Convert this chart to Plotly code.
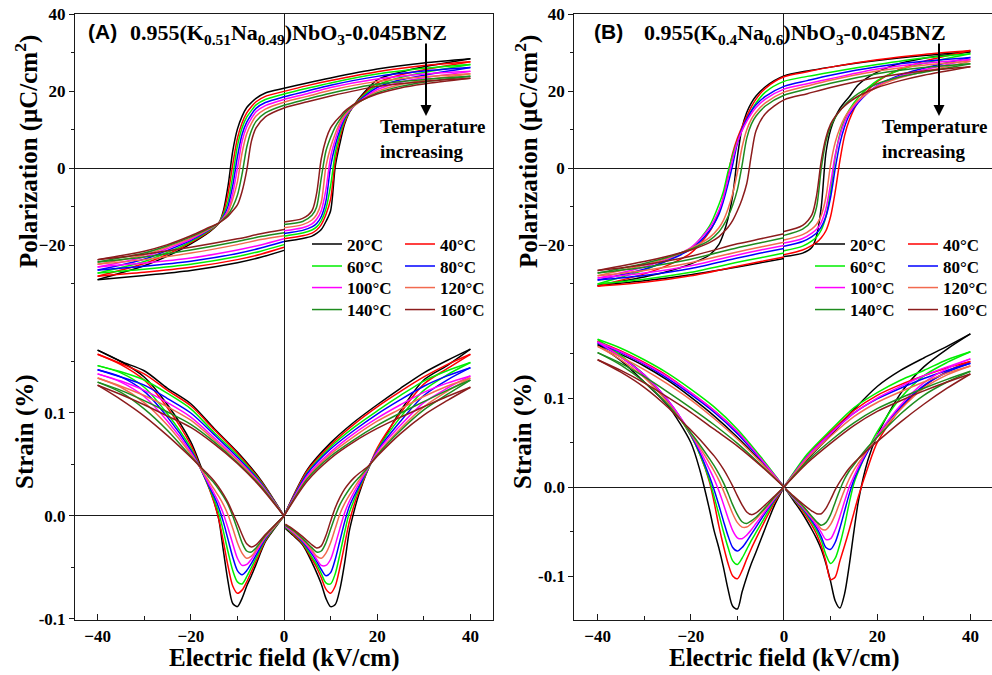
import plotly.graph_objects as go

# ---------------- data ----------------
TEMPS = [20, 40, 60, 80, 100, 120, 140, 160]
LABELS = [f"{t}°C" for t in TEMPS]
COLORS = ["#000000", "#ff0000", "#00ee00", "#0000ff", "#ff00ff", "#f26a4f", "#1e8c1e", "#8c1c1c"]

# P-E loops: descending branch (+40 -> -40) and ascending branch (split at the E=0 jump)
E_DOWN = [40, 30, 20, 10, 5, 0, -4, -6, -7, -8, -9, -10, -11, -12, -13, -14, -16, -20, -25, -30, -40]
E_UP_NEG = [-40, -30, -20, -10, -5, 0]
E_UP_POS = [0, 4, 6, 7, 8, 9, 10, 11, 12, 13, 14, 16, 20, 25, 30, 40]

A_P_DOWN = [
    [28.5, 27.4, 25.8, 23.5, 22.2, 20.8, 19.6, 18.2, 17.1, 15.8, 13.5, 10.2, 4.5, -4.5, -11.0, -14.3, -16.5, -19.6, -22.8, -25.3, -28.9],
    [27.7, 26.7, 25.1, 22.8, 21.5, 20.0, 18.7, 17.3, 16.0, 14.4, 11.8, 7.8, 1.0, -6.5, -11.5, -14.2, -16.3, -19.3, -22.3, -24.7, -28.0],
    [27.0, 26.0, 24.5, 22.2, 20.8, 19.3, 17.9, 16.5, 15.0, 13.3, 10.5, 5.8, -2.0, -8.5, -12.0, -14.2, -16.1, -19.0, -21.8, -24.2, -27.2],
    [26.2, 25.3, 23.9, 21.6, 20.1, 18.6, 17.1, 15.6, 14.0, 12.0, 8.8, 3.0, -4.5, -9.8, -12.5, -14.2, -15.9, -18.7, -21.3, -23.6, -26.4],
    [25.2, 24.5, 23.2, 21.0, 19.4, 17.9, 16.3, 14.7, 13.0, 10.8, 7.0, 0.0, -6.5, -10.8, -12.8, -14.2, -15.8, -18.4, -20.8, -23.0, -25.6],
    [24.6, 23.8, 22.6, 20.3, 18.7, 17.2, 15.4, 13.6, 11.7, 9.0, 4.0, -3.5, -8.0, -11.3, -13.0, -14.2, -15.7, -18.1, -20.4, -22.5, -24.9],
    [23.9, 23.1, 21.9, 19.5, 18.0, 16.4, 14.4, 12.2, 9.8, 5.5, -1.5, -7.0, -10.0, -12.0, -13.2, -14.2, -15.5, -17.8, -20.1, -22.0, -24.3],
    [23.4, 22.6, 21.3, 18.8, 17.3, 15.7, 13.4, 10.5, 7.0, -0.5, -6.0, -9.5, -11.0, -12.4, -13.4, -14.2, -15.3, -17.5, -19.8, -21.5, -23.7],
]
A_P_UP_NEG = [
    [-28.9, -27.8, -26.5, -24.5, -23.1, -21.3],
    [-28.0, -27.0, -25.7, -23.7, -22.3, -20.5],
    [-27.2, -26.2, -24.9, -22.9, -21.5, -19.8],
    [-26.4, -25.4, -24.1, -22.1, -20.7, -19.0],
    [-25.6, -24.6, -23.3, -21.2, -19.9, -18.3],
    [-24.9, -23.7, -22.0, -19.8, -18.5, -17.5],
    [-24.3, -23.0, -21.2, -19.0, -17.7, -16.7],
    [-23.7, -22.3, -20.5, -18.3, -17.0, -15.9],
]
A_P_UP_POS = [
    [-19.0, -18.2, -17.6, -16.9, -15.9, -13.8, -11.0, 0.5, 6.5, 11.5, 14.5, 18.0, 23.0, 25.0, 26.4, 28.5],
    [-18.3, -17.5, -16.8, -16.0, -14.6, -12.0, -8.0, 2.0, 8.0, 12.0, 14.6, 17.8, 22.2, 24.3, 25.6, 27.7],
    [-17.6, -16.8, -16.0, -15.2, -13.6, -10.5, -4.5, 4.0, 9.0, 12.5, 14.7, 17.6, 21.6, 23.6, 24.9, 27.0],
    [-16.9, -16.1, -15.2, -14.3, -12.5, -8.5, 0.5, 6.0, 10.0, 13.0, 14.9, 17.4, 21.0, 23.0, 24.2, 26.2],
    [-16.2, -15.4, -14.4, -13.2, -11.0, -5.5, 3.0, 7.5, 11.0, 13.4, 15.0, 17.2, 20.5, 22.4, 23.5, 25.2],
    [-15.4, -14.6, -13.4, -12.0, -8.8, 0.5, 5.5, 9.0, 11.8, 13.8, 15.2, 17.1, 20.0, 21.8, 22.9, 24.6],
    [-14.6, -13.8, -12.2, -10.0, -2.5, 4.5, 8.0, 10.8, 12.7, 14.3, 15.5, 17.2, 19.6, 21.3, 22.4, 23.9],
    [-13.9, -13.0, -11.0, -6.5, 2.5, 7.5, 10.5, 12.2, 13.5, 14.8, 15.8, 17.3, 19.3, 20.9, 21.9, 23.4],
]

B_P_DOWN = [
    [30.3, 29.3, 28.0, 26.3, 25.3, 24.0, 21.2, 18.8, 17.0, 14.5, 10.5, 3.0, -7.0, -13.0, -17.0, -19.8, -22.5, -24.8, -26.8, -28.2, -30.4],
    [30.6, 29.6, 28.2, 26.3, 25.1, 23.8, 20.8, 18.0, 16.0, 13.5, 10.8, 7.8, 4.0, -1.5, -7.5, -11.5, -16.5, -22.0, -25.2, -27.4, -30.6],
    [29.8, 28.7, 27.0, 25.0, 23.9, 22.6, 19.8, 17.0, 15.0, 12.6, 10.0, 7.0, 3.5, -0.8, -6.0, -9.5, -15.0, -20.8, -23.8, -26.4, -30.0],
    [28.8, 27.8, 26.4, 24.2, 22.8, 21.3, 18.7, 16.5, 14.9, 12.8, 10.2, 6.5, 1.0, -4.0, -8.5, -12.0, -16.2, -21.0, -24.0, -26.2, -29.0],
    [28.3, 27.3, 25.8, 23.3, 22.0, 20.6, 18.0, 15.8, 14.2, 12.2, 9.8, 6.8, 2.5, -2.5, -7.5, -11.0, -15.5, -20.6, -23.5, -25.6, -28.5],
    [27.8, 26.8, 25.3, 22.9, 21.4, 19.8, 17.0, 14.6, 12.8, 10.0, 5.5, -1.0, -6.5, -10.5, -13.5, -15.5, -18.0, -20.8, -23.3, -25.1, -27.9],
    [27.2, 26.2, 24.6, 22.1, 20.6, 19.0, 16.2, 13.6, 11.5, 7.8, 0.8, -5.5, -9.5, -12.5, -14.8, -16.5, -18.7, -21.0, -23.1, -24.7, -27.2],
    [26.4, 25.3, 23.6, 21.0, 19.4, 17.8, 14.2, 9.8, 3.5, -4.0, -8.0, -11.0, -13.5, -15.3, -16.6, -17.8, -19.3, -21.2, -22.8, -24.2, -26.5],
]
B_P_UP_NEG = [
    [-30.4, -29.2, -27.6, -25.6, -24.5, -23.4],
    [-30.6, -29.6, -27.9, -25.4, -24.2, -23.0],
    [-30.0, -28.8, -27.0, -24.4, -23.2, -22.0],
    [-29.0, -27.8, -26.0, -23.3, -22.0, -20.8],
    [-28.5, -27.2, -25.3, -22.5, -21.2, -20.0],
    [-27.9, -26.5, -24.5, -21.7, -20.4, -19.2],
    [-27.2, -25.7, -23.6, -20.6, -19.3, -18.0],
    [-26.5, -25.0, -22.8, -19.6, -18.3, -17.0],
]
B_P_UP_POS = [
    [-22.9, -22.0, -20.5, -17.5, -10.0, 4.0, 10.0, 13.3, 15.6, 17.2, 18.6, 21.8, 25.0, 27.3, 28.6, 30.3],
    [-22.4, -21.2, -20.0, -19.2, -18.0, -16.2, -12.5, -6.0, 2.0, 8.5, 12.5, 17.5, 22.5, 25.8, 27.8, 30.6],
    [-21.4, -20.2, -18.8, -17.8, -16.0, -12.5, -6.0, 3.0, 9.0, 12.8, 15.2, 18.5, 22.8, 25.6, 27.3, 29.8],
    [-20.2, -19.0, -17.7, -16.8, -15.2, -12.5, -7.5, 0.0, 6.5, 10.8, 13.8, 17.2, 21.5, 24.3, 26.0, 28.8],
    [-19.4, -18.2, -16.8, -15.8, -14.0, -10.5, -4.0, 3.5, 8.5, 12.0, 14.4, 17.5, 21.4, 24.0, 25.6, 28.3],
    [-18.6, -17.2, -15.7, -14.5, -12.2, -7.5, 1.0, 6.8, 10.5, 13.2, 15.0, 17.8, 21.2, 23.6, 25.1, 27.8],
    [-17.4, -15.8, -13.5, -10.0, 0.0, 7.0, 10.8, 13.2, 15.0, 16.4, 17.6, 19.5, 22.0, 23.8, 25.0, 27.2],
    [-16.4, -14.8, -12.0, -7.0, 2.0, 8.0, 11.5, 13.5, 15.0, 16.2, 17.2, 18.8, 21.0, 22.8, 24.2, 26.4],
]

# S-E butterfly loops: four branches
E_RU = [0.3, 2, 4, 6, 7, 8, 9, 10, 11, 12, 13, 14, 15, 16, 18, 20, 25, 30, 35, 40]
E_RR = [40, 35, 30, 25, 20, 15, 10, 5, 0]
E_LD = [0, -2, -4, -6, -7, -8, -9, -10, -11, -12, -13, -14, -15, -16, -18, -20, -25, -30, -35, -40]
E_LR = [-40, -35, -30, -25, -20, -15, -10, -5, 0]

A_S_RU = [
    [-0.012, -0.019, -0.028, -0.045, -0.055, -0.066, -0.080, -0.088, -0.086, -0.071, -0.046, -0.015, 0.004, 0.020, 0.045, 0.063, 0.102, 0.132, 0.146, 0.162],
    [-0.011, -0.018, -0.027, -0.042, -0.050, -0.060, -0.071, -0.075, -0.068, -0.050, -0.028, -0.006, 0.010, 0.023, 0.045, 0.066, 0.100, 0.128, 0.143, 0.157],
    [-0.011, -0.017, -0.026, -0.040, -0.047, -0.056, -0.065, -0.066, -0.056, -0.037, -0.016, 0.003, 0.015, 0.026, 0.045, 0.064, 0.096, 0.122, 0.137, 0.149],
    [-0.010, -0.016, -0.025, -0.037, -0.044, -0.052, -0.058, -0.055, -0.042, -0.024, -0.006, 0.009, 0.019, 0.028, 0.046, 0.063, 0.092, 0.117, 0.132, 0.144],
    [-0.010, -0.016, -0.024, -0.035, -0.042, -0.048, -0.048, -0.042, -0.028, -0.012, 0.003, 0.014, 0.023, 0.031, 0.046, 0.062, 0.088, 0.110, 0.124, 0.136],
    [-0.009, -0.015, -0.023, -0.033, -0.039, -0.041, -0.036, -0.026, -0.012, 0.002, 0.012, 0.020, 0.027, 0.034, 0.047, 0.060, 0.085, 0.106, 0.121, 0.134],
    [-0.009, -0.014, -0.022, -0.031, -0.035, -0.034, -0.026, -0.013, 0.000, 0.011, 0.019, 0.026, 0.032, 0.037, 0.047, 0.059, 0.083, 0.103, 0.118, 0.132],
    [-0.008, -0.013, -0.020, -0.028, -0.031, -0.029, -0.019, -0.005, 0.008, 0.018, 0.026, 0.032, 0.037, 0.041, 0.048, 0.058, 0.080, 0.098, 0.112, 0.125],
]
A_S_RR = [
    [0.162, 0.151, 0.139, 0.124, 0.108, 0.091, 0.071, 0.045, 0.0],
    [0.157, 0.147, 0.135, 0.121, 0.106, 0.089, 0.069, 0.044, 0.0],
    [0.149, 0.141, 0.131, 0.117, 0.102, 0.086, 0.067, 0.042, 0.0],
    [0.144, 0.136, 0.126, 0.113, 0.099, 0.083, 0.065, 0.041, 0.0],
    [0.136, 0.129, 0.120, 0.108, 0.095, 0.080, 0.062, 0.039, 0.0],
    [0.134, 0.126, 0.116, 0.104, 0.092, 0.077, 0.060, 0.037, 0.0],
    [0.132, 0.122, 0.111, 0.100, 0.088, 0.074, 0.058, 0.036, 0.0],
    [0.125, 0.116, 0.106, 0.096, 0.085, 0.072, 0.056, 0.034, 0.0],
]
A_S_LD = [
    [0.0, -0.012, -0.025, -0.047, -0.058, -0.068, -0.080, -0.088, -0.085, -0.064, -0.034, -0.003, 0.014, 0.027, 0.050, 0.072, 0.108, 0.135, 0.150, 0.161],
    [0.0, -0.011, -0.024, -0.044, -0.054, -0.064, -0.072, -0.075, -0.068, -0.049, -0.025, -0.003, 0.013, 0.026, 0.048, 0.069, 0.105, 0.132, 0.147, 0.157],
    [0.0, -0.011, -0.023, -0.041, -0.050, -0.059, -0.066, -0.064, -0.053, -0.035, -0.015, 0.003, 0.016, 0.027, 0.047, 0.066, 0.099, 0.125, 0.139, 0.146],
    [0.0, -0.010, -0.022, -0.038, -0.046, -0.053, -0.057, -0.053, -0.040, -0.023, -0.006, 0.008, 0.019, 0.028, 0.047, 0.064, 0.096, 0.121, 0.135, 0.142],
    [0.0, -0.010, -0.021, -0.035, -0.042, -0.047, -0.048, -0.041, -0.027, -0.012, 0.002, 0.013, 0.022, 0.030, 0.047, 0.062, 0.092, 0.116, 0.130, 0.138],
    [0.0, -0.010, -0.020, -0.033, -0.039, -0.041, -0.036, -0.026, -0.012, 0.001, 0.011, 0.019, 0.026, 0.033, 0.047, 0.060, 0.088, 0.110, 0.125, 0.134],
    [0.0, -0.009, -0.019, -0.031, -0.035, -0.034, -0.026, -0.013, 0.000, 0.011, 0.019, 0.026, 0.032, 0.037, 0.048, 0.058, 0.083, 0.104, 0.120, 0.130],
    [0.0, -0.009, -0.018, -0.028, -0.030, -0.027, -0.018, -0.007, 0.003, 0.013, 0.021, 0.028, 0.034, 0.039, 0.048, 0.057, 0.078, 0.097, 0.113, 0.127],
]
A_S_LR = [
    [0.161, 0.150, 0.141, 0.124, 0.109, 0.085, 0.062, 0.035, 0.0],
    [0.157, 0.148, 0.138, 0.122, 0.107, 0.084, 0.061, 0.034, 0.0],
    [0.146, 0.140, 0.132, 0.119, 0.104, 0.081, 0.059, 0.033, 0.0],
    [0.142, 0.135, 0.127, 0.114, 0.100, 0.079, 0.057, 0.032, 0.0],
    [0.138, 0.131, 0.122, 0.110, 0.096, 0.076, 0.055, 0.031, 0.0],
    [0.134, 0.126, 0.117, 0.106, 0.093, 0.074, 0.054, 0.030, 0.0],
    [0.130, 0.122, 0.112, 0.101, 0.089, 0.072, 0.052, 0.029, 0.0],
    [0.127, 0.118, 0.108, 0.097, 0.086, 0.070, 0.051, 0.028, 0.0],
]

B_S_RU = [
    [-0.002, -0.015, -0.030, -0.048, -0.058, -0.070, -0.086, -0.106, -0.128, -0.136, -0.120, -0.088, -0.050, -0.015, 0.030, 0.058, 0.105, 0.135, 0.155, 0.172],
    [-0.002, -0.013, -0.027, -0.043, -0.053, -0.066, -0.084, -0.104, -0.101, -0.083, -0.066, -0.048, -0.029, -0.010, 0.022, 0.050, 0.088, 0.113, 0.130, 0.141],
    [-0.002, -0.013, -0.025, -0.040, -0.049, -0.060, -0.076, -0.086, -0.080, -0.064, -0.043, -0.018, 0.004, 0.018, 0.042, 0.062, 0.100, 0.125, 0.140, 0.152],
    [-0.002, -0.012, -0.024, -0.038, -0.046, -0.056, -0.068, -0.070, -0.062, -0.046, -0.027, -0.008, 0.008, 0.020, 0.040, 0.057, 0.090, 0.114, 0.129, 0.139],
    [-0.002, -0.012, -0.023, -0.036, -0.043, -0.051, -0.059, -0.058, -0.048, -0.033, -0.016, 0.000, 0.012, 0.023, 0.042, 0.058, 0.092, 0.117, 0.133, 0.144],
    [-0.002, -0.011, -0.022, -0.034, -0.040, -0.047, -0.048, -0.042, -0.031, -0.017, -0.003, 0.009, 0.019, 0.027, 0.042, 0.056, 0.087, 0.111, 0.126, 0.136],
    [-0.002, -0.011, -0.021, -0.033, -0.039, -0.043, -0.040, -0.031, -0.017, -0.003, 0.009, 0.018, 0.025, 0.032, 0.045, 0.056, 0.082, 0.103, 0.118, 0.130],
    [-0.002, -0.010, -0.019, -0.027, -0.030, -0.030, -0.024, -0.014, -0.003, 0.006, 0.014, 0.021, 0.027, 0.032, 0.042, 0.051, 0.073, 0.093, 0.111, 0.127],
]
B_S_RR = [
    [0.172, 0.158, 0.145, 0.131, 0.113, 0.087, 0.058, 0.031, 0.0],
    [0.141, 0.134, 0.125, 0.115, 0.103, 0.086, 0.062, 0.035, 0.0],
    [0.152, 0.143, 0.131, 0.120, 0.106, 0.089, 0.064, 0.037, 0.0],
    [0.139, 0.131, 0.122, 0.111, 0.099, 0.083, 0.060, 0.034, 0.0],
    [0.144, 0.135, 0.125, 0.113, 0.100, 0.083, 0.060, 0.034, 0.0],
    [0.136, 0.128, 0.118, 0.107, 0.095, 0.079, 0.057, 0.032, 0.0],
    [0.130, 0.121, 0.111, 0.100, 0.088, 0.072, 0.052, 0.029, 0.0],
    [0.127, 0.118, 0.108, 0.097, 0.085, 0.069, 0.049, 0.027, 0.0],
]
B_S_LD = [
    [0.0, -0.020, -0.046, -0.073, -0.086, -0.101, -0.118, -0.137, -0.134, -0.115, -0.090, -0.068, -0.049, -0.025, 0.018, 0.050, 0.092, 0.118, 0.142, 0.160],
    [0.0, -0.017, -0.037, -0.058, -0.069, -0.081, -0.094, -0.103, -0.100, -0.086, -0.066, -0.043, -0.017, 0.006, 0.036, 0.058, 0.097, 0.125, 0.147, 0.164],
    [0.0, -0.015, -0.033, -0.051, -0.060, -0.070, -0.080, -0.087, -0.083, -0.068, -0.050, -0.030, -0.011, 0.008, 0.036, 0.058, 0.097, 0.126, 0.148, 0.166],
    [0.0, -0.014, -0.029, -0.045, -0.053, -0.061, -0.068, -0.072, -0.068, -0.055, -0.038, -0.020, -0.003, 0.012, 0.038, 0.059, 0.098, 0.126, 0.146, 0.162],
    [0.0, -0.013, -0.027, -0.041, -0.048, -0.054, -0.058, -0.057, -0.049, -0.035, -0.019, -0.004, 0.009, 0.020, 0.041, 0.060, 0.098, 0.126, 0.146, 0.163],
    [0.0, -0.012, -0.024, -0.036, -0.041, -0.045, -0.045, -0.040, -0.030, -0.017, -0.004, 0.008, 0.018, 0.027, 0.044, 0.060, 0.095, 0.123, 0.143, 0.158],
    [0.0, -0.011, -0.023, -0.034, -0.038, -0.041, -0.039, -0.031, -0.020, -0.007, 0.005, 0.015, 0.024, 0.032, 0.047, 0.061, 0.093, 0.118, 0.137, 0.151],
    [0.0, -0.010, -0.020, -0.029, -0.031, -0.028, -0.020, -0.010, 0.001, 0.011, 0.020, 0.028, 0.035, 0.041, 0.053, 0.064, 0.090, 0.112, 0.129, 0.143],
]
B_S_LR = [
    [0.160, 0.149, 0.136, 0.120, 0.101, 0.080, 0.056, 0.029, 0.0],
    [0.164, 0.153, 0.140, 0.125, 0.106, 0.086, 0.062, 0.032, 0.0],
    [0.166, 0.156, 0.143, 0.128, 0.110, 0.090, 0.065, 0.034, 0.0],
    [0.162, 0.151, 0.138, 0.122, 0.104, 0.084, 0.060, 0.031, 0.0],
    [0.163, 0.152, 0.139, 0.124, 0.106, 0.086, 0.062, 0.032, 0.0],
    [0.158, 0.146, 0.132, 0.116, 0.098, 0.077, 0.054, 0.028, 0.0],
    [0.151, 0.139, 0.124, 0.107, 0.089, 0.070, 0.049, 0.025, 0.0],
    [0.143, 0.131, 0.117, 0.101, 0.084, 0.065, 0.046, 0.024, 0.0],
]

X_TICKS = [-40, -20, 0, 20, 40]
X_MINOR = [-30, -10, 10, 30]
P_TICKS = [-20, 0, 20, 40]
P_MINOR = [-30, -10, 10, 30]
S_TICKS = [-0.1, 0.0, 0.1]
S_TICKTEXT = ["-0.1", "0.0", "0.1"]
S_MINOR = [-0.05, 0.05, 0.15]

# ---------------- figure ----------------
W, H = 992, 675
SERIF = "Liberation Serif, Times New Roman, serif"
SANS = "Liberation Sans, Arial, sans-serif"
INK = "#1a1a1a"


def px(x):
    return x / W


def py(y):
    return 1 - y / H


def join(*segs):
    X, Y = [], []
    for k, (xs, ys) in enumerate(segs):
        if len(xs) != len(ys):
            raise ValueError("length mismatch %d vs %d" % (len(xs), len(ys)))
        if k:
            X.append(None)
            Y.append(None)
        X.extend(xs)
        Y.extend(ys)
    return X, Y


def legend_id(n):
    return "legend" if n == 1 else "legend%d" % n


fig = go.Figure()

panels = [
    dict(pd=A_P_DOWN, pn=A_P_UP_NEG, pp=A_P_UP_POS, ru=A_S_RU, rr=A_S_RR, ld=A_S_LD, lr=A_S_LR,
         xa="x", yp="y", ys="y3", leg0=1, tag="A", cols=(307, 400)),
    dict(pd=B_P_DOWN, pn=B_P_UP_NEG, pp=B_P_UP_POS, ru=B_S_RU, rr=B_S_RR, ld=B_S_LD, lr=B_S_LR,
         xa="x2", yp="y2", ys="y4", leg0=9, tag="B", cols=(810, 903)),
]

ROW_CENTERS = [244, 266, 287.5, 309.5]
legfont = dict(family=SERIF, size=17, color="black", weight="bold")
legends = {}

for p in panels:
    for i, T in enumerate(TEMPS):
        leg = legend_id(p["leg0"] + i)
        legends[leg] = dict(x=px(p["cols"][i % 2]), y=py(ROW_CENTERS[i // 2] - 17.5),
                            xanchor="left", yanchor="top", orientation="v",
                            bgcolor="rgba(0,0,0,0)", borderwidth=0, font=legfont,
                            itemwidth=30, tracegroupgap=0)
        grp = p["tag"] + str(T)
        line = dict(color=COLORS[i], width=1.5, shape="spline", smoothing=0.8)
        x, y = join((E_DOWN, p["pd"][i]), (E_UP_NEG, p["pn"][i]), (E_UP_POS, p["pp"][i]))
        fig.add_trace(go.Scatter(x=x, y=y, xaxis=p["xa"], yaxis=p["yp"], mode="lines", line=line,
                                 name=LABELS[i], legend=leg, legendgroup=grp, showlegend=True,
                                 connectgaps=False))
        x, y = join((E_RU, p["ru"][i]), (E_RR, p["rr"][i]), (E_LD, p["ld"][i]), (E_LR, p["lr"][i]))
        fig.add_trace(go.Scatter(x=x, y=y, xaxis=p["xa"], yaxis=p["ys"], mode="lines", line=line,
                                 name=LABELS[i], legend=leg, legendgroup=grp, showlegend=False,
                                 connectgaps=False))

tickfont = dict(family=SERIF, size=17, color="black", weight="bold")
common = dict(showgrid=False, zeroline=True, zerolinecolor=INK, zerolinewidth=1.2,
              tickfont=tickfont, tickcolor=INK, tickwidth=1.2)

YDOM = [1 - 620 / H, 1 - 14 / H]


def xaxis(dom, rng, anchor):
    return dict(domain=dom, range=rng, anchor=anchor, tickvals=X_TICKS, ticks="inside", ticklen=6,
                minor=dict(tickvals=X_MINOR, ticks="inside", ticklen=4, tickcolor=INK, tickwidth=1.2),
                showline=True, linecolor=INK, linewidth=1.3, mirror=True, **common)


def paxis(rng, anchor):
    return dict(domain=YDOM, range=rng, anchor=anchor, tickvals=P_TICKS, ticks="outside", ticklen=5,
                minor=dict(tickvals=P_MINOR, ticks="outside", ticklen=3, tickcolor=INK, tickwidth=1.2),
                showline=True, linecolor=INK, linewidth=1.3, mirror=True, **common)


def saxis(rng, anchor, over):
    return dict(range=rng, anchor=anchor, overlaying=over, side="left", tickvals=S_TICKS,
                ticktext=S_TICKTEXT, ticks="outside", ticklen=5,
                minor=dict(tickvals=S_MINOR, ticks="outside", ticklen=3, tickcolor=INK, tickwidth=1.2),
                showline=False, **common)


fig.update_layout(
    width=W, height=H,
    margin=dict(l=0, r=0, t=0, b=0, autoexpand=False),
    paper_bgcolor="white", plot_bgcolor="white",
    font=dict(family=SERIF, color="black"),
    xaxis=xaxis([75 / W, 493 / W], [-44.85, 44.85], "y"),
    xaxis2=xaxis([574.3 / W, 1.0], [-45.0, 44.64], "y2"),
    yaxis=paxis([-117.3, 40.1], "x"),
    yaxis2=paxis([-117.3, 40.1], "x2"),
    yaxis3=saxis([-0.101, 0.4874], "x", "y"),
    yaxis4=saxis([-0.1494, 0.5315], "x2", "y2"),
    **legends,
)


def bold(size, fam=SERIF):
    return dict(family=fam, size=size, color="black", weight="bold")


ann = []
for (tag, lx, fx, formula, tcx, arx, ptx, stx, xc) in [
    ("(A)", 86, 128, "0.955(K<sub>0.51</sub>Na<sub>0.49</sub>)NbO<sub>3</sub>-0.045BNZ", 378, 426, 27, 25, 284),
    ("(B)", 592, 642, "0.955(K<sub>0.4</sub>Na<sub>0.6</sub>)NbO<sub>3</sub>-0.045BNZ", 880, 939, 527, 523, 784),
]:
    ann.append(dict(x=px(lx), y=py(31), xref="paper", yref="paper", text=tag, showarrow=False,
                    xanchor="left", yanchor="middle", font=bold(21, SANS)))
    ann.append(dict(x=px(fx), y=py(34), xref="paper", yref="paper", text=formula, showarrow=False,
                    xanchor="left", yanchor="middle", font=bold(22)))
    ann.append(dict(x=px(tcx), y=py(139), xref="paper", yref="paper", text="Temperature<br>increasing",
                    showarrow=False, xanchor="left", yanchor="middle", align="left", font=bold(19)))
    ann.append(dict(x=px(arx), y=py(116), xref="paper", yref="paper", text="", showarrow=True,
                    ax=0, ay=-74, axref="pixel", ayref="pixel", arrowhead=2, arrowsize=1.1,
                    arrowwidth=2, arrowcolor="black"))
    ann.append(dict(x=px(ptx), y=py(152), xref="paper", yref="paper",
                    text="Polarization (μC/cm<sup>2</sup>)", textangle=-90, showarrow=False,
                    xanchor="center", yanchor="middle", font=bold(25)))
    ann.append(dict(x=px(stx), y=py(432), xref="paper", yref="paper", text="Strain (%)",
                    textangle=-90, showarrow=False, xanchor="center", yanchor="middle", font=bold(25)))
    ann.append(dict(x=px(xc), y=py(658), xref="paper", yref="paper", text="Electric field (kV/cm)",
                    showarrow=False, xanchor="center", yanchor="middle", font=bold(25)))
fig.update_layout(annotations=ann)

fig.write_html("out.html", config={"displayModeBar": False},
               post_script=["document.body.style.margin='0px';"])
